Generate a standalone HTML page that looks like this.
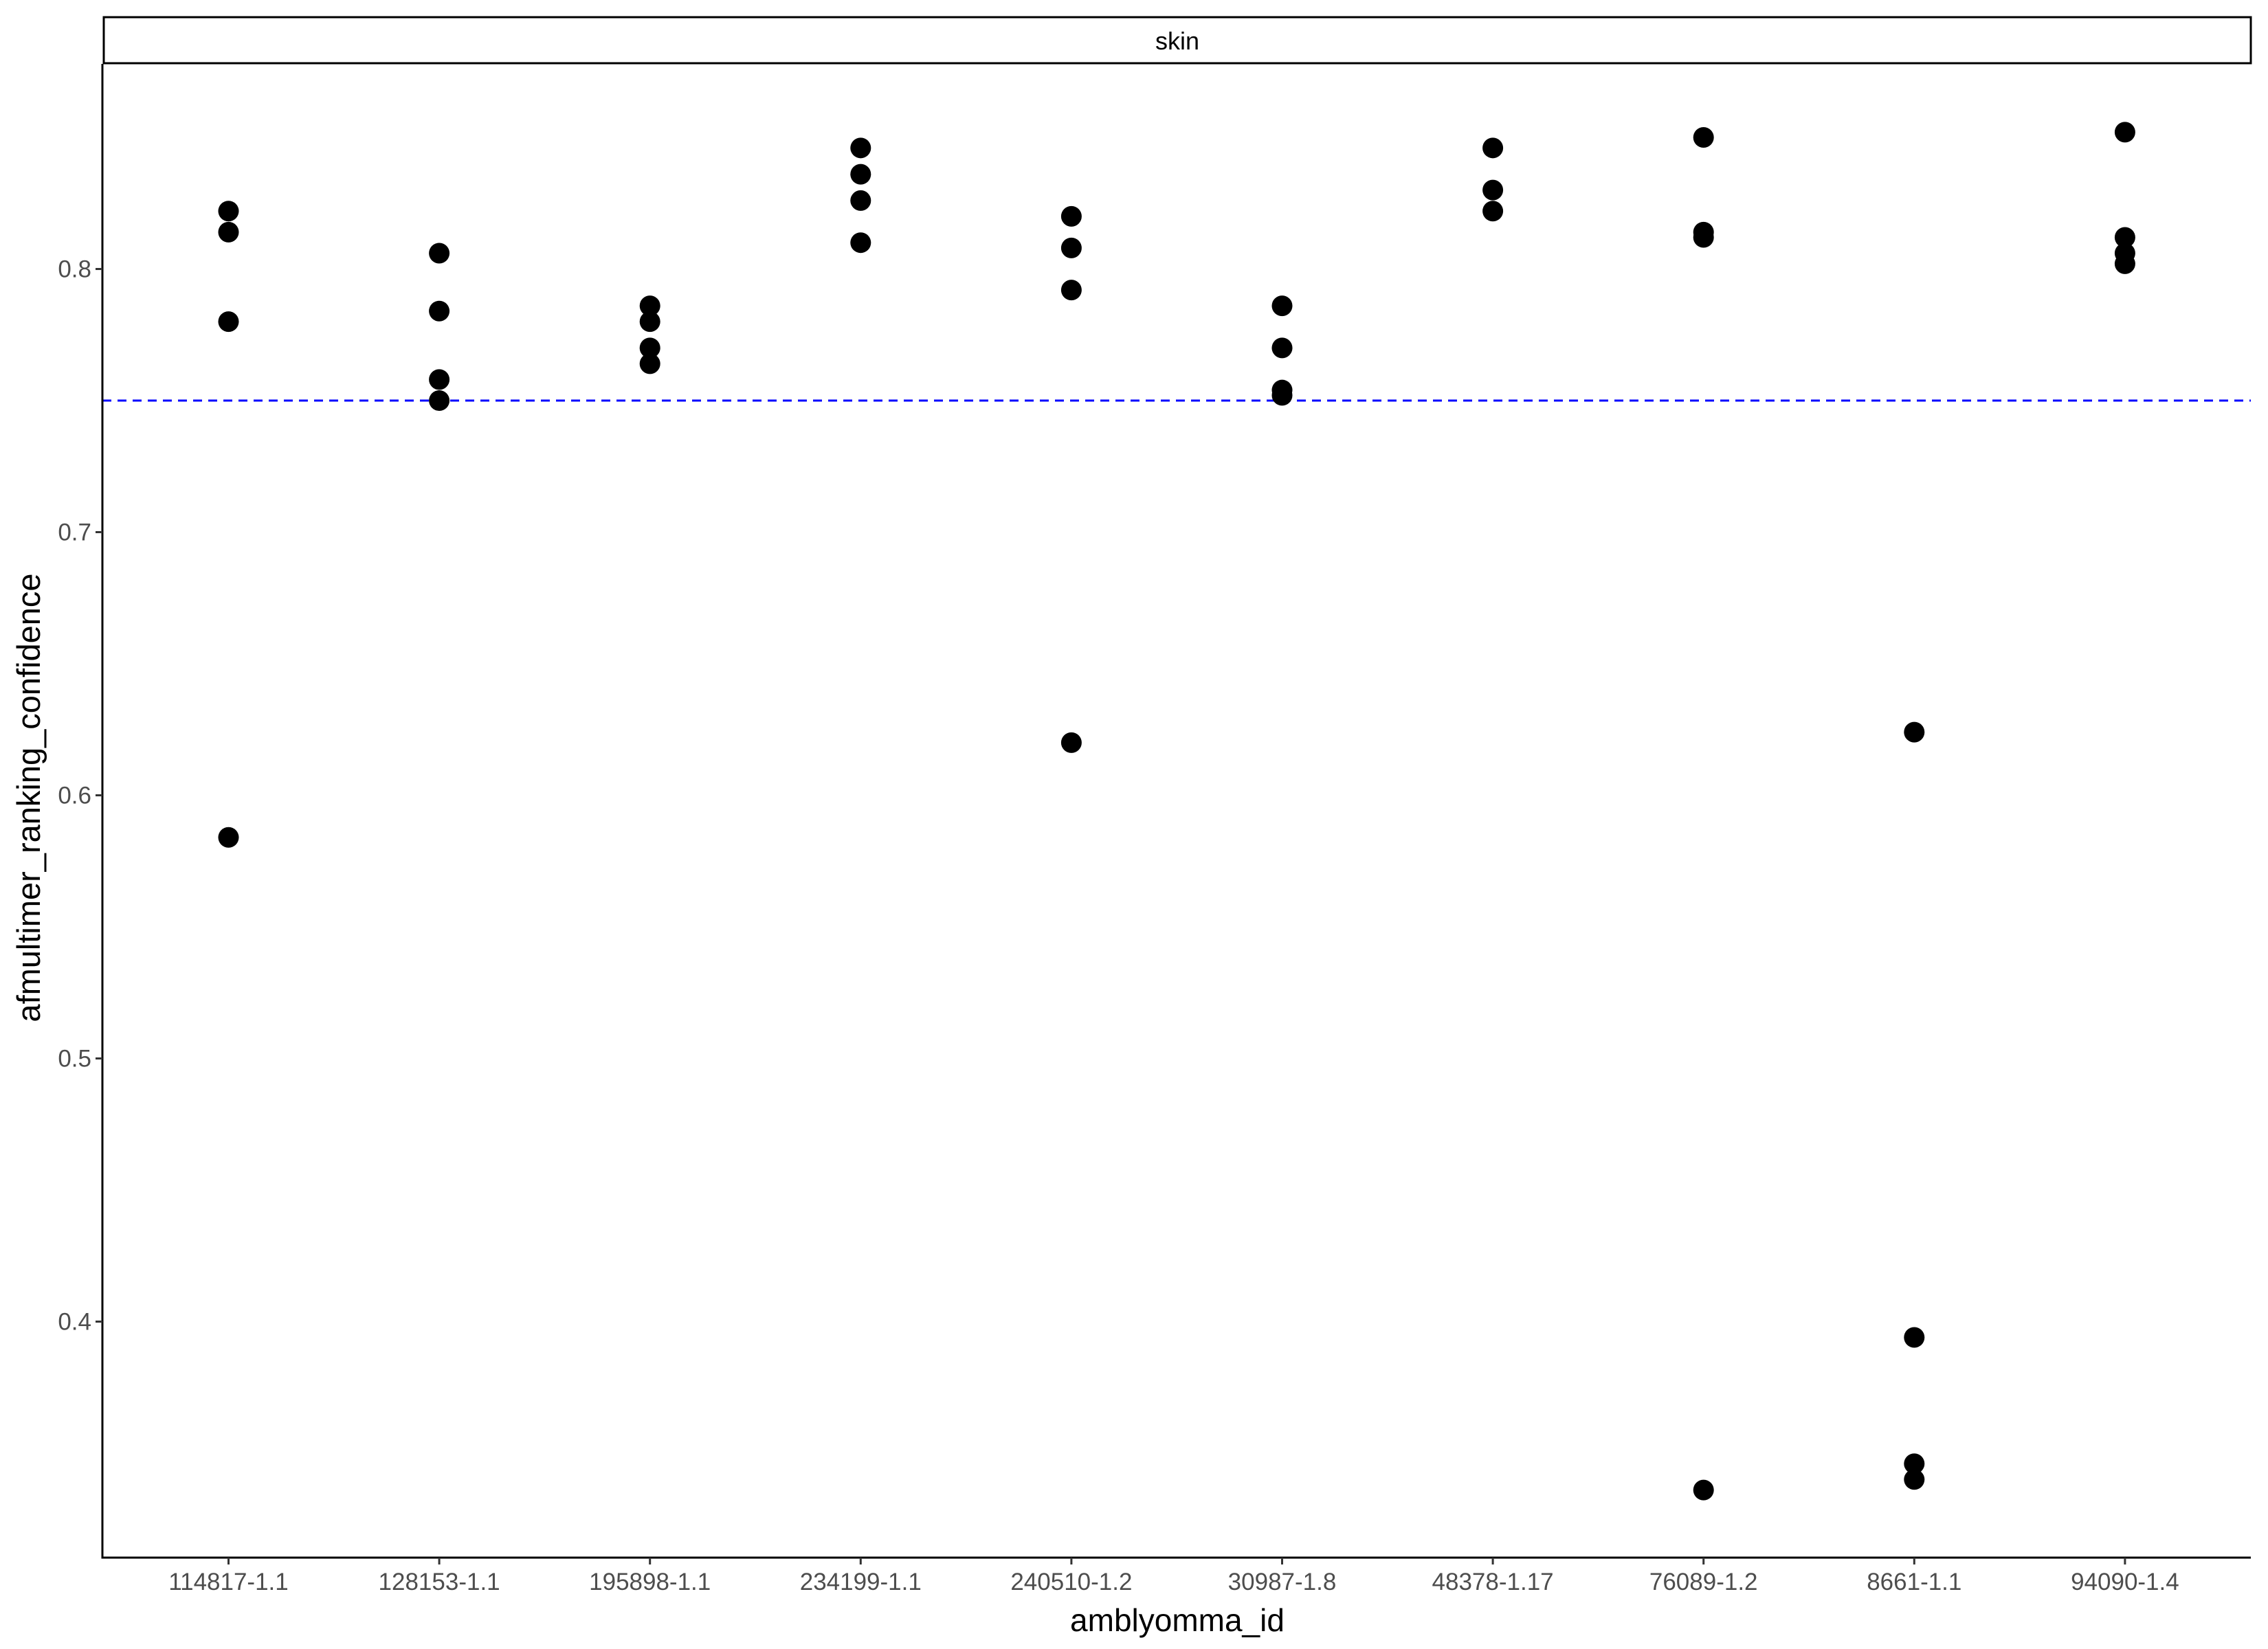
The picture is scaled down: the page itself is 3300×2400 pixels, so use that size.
<!DOCTYPE html>
<html><head><meta charset="utf-8"><style>html,body{margin:0;padding:0;background:#fff}svg{display:block}text{font-family:"Liberation Sans",sans-serif}</style></head>
<body>
<svg id="chart" xmlns="http://www.w3.org/2000/svg" width="3300" height="2400" viewBox="0 0 3300 2400">
<rect x="0" y="0" width="3300" height="2400" fill="#fff"/>
<rect x="151" y="25" width="3124" height="67" fill="#fff" stroke="#000" stroke-width="3"/>
<text x="1713" y="72" font-size="36" text-anchor="middle">skin</text>
<g id="plot"></g>
<text x="1713" y="2374" font-size="46" text-anchor="middle">amblyomma_id</text>
<text transform="translate(58,1161) rotate(-90)" font-size="47" text-anchor="middle">afmultimer_ranking_confidence</text>
</svg>
<script>
const categories=["114817-1.1","128153-1.1","195898-1.1","234199-1.1","240510-1.2","30987-1.8","48378-1.17","76089-1.2","8661-1.1","94090-1.4"];
const values=[[0.822,0.814,0.780,0.584],[0.806,0.784,0.758,0.750],[0.786,0.780,0.770,0.764],[0.846,0.836,0.826,0.810],[0.820,0.808,0.792,0.620],[0.786,0.770,0.754,0.752],[0.846,0.830,0.822],[0.850,0.814,0.812,0.336],[0.624,0.394,0.346,0.340],[0.852,0.812,0.806,0.802]];
const yTicks=[0.4,0.5,0.6,0.7,0.8];
const threshold=0.75;
const NS="http://www.w3.org/2000/svg";
const L=149,R=3275,T=93,B=2267;
const x=i=>332.5+i*306.6;
const y=v=>391.5+(0.8-v)*3830;
const g=document.getElementById('plot');
function mk(t,a){const e=document.createElementNS(NS,t);for(const k in a)e.setAttribute(k,a[k]);g.appendChild(e);return e;}
let e=mk('line',{x1:149,y1:y(threshold),x2:3275,y2:y(threshold),stroke:'#0000ff','stroke-width':3,'stroke-dasharray':'13,9'});


values.forEach((vs,i)=>vs.forEach(v=>{const c=mk('circle',{cx:x(i),cy:y(v),r:15,fill:'#000'});

}));
e=mk('line',{x1:L,y1:T,x2:L,y2:B+1.5,stroke:'#000','stroke-width':3});


e=mk('line',{x1:L-1.5,y1:B,x2:R,y2:B,stroke:'#000','stroke-width':3});


yTicks.forEach(t=>{const l=mk('line',{x1:L-10,y1:y(t),x2:L,y2:y(t),stroke:'#333','stroke-width':3});


const tx=mk('text',{x:L-16,y:y(t)+12,'font-size':35,fill:'#4d4d4d','text-anchor':'end'});tx.textContent=t.toFixed(1);

});
categories.forEach((c,i)=>{const l=mk('line',{x1:x(i),y1:B,x2:x(i),y2:B+10,stroke:'#333','stroke-width':3});


const tx=mk('text',{x:x(i),y:B+47,'font-size':35,fill:'#4d4d4d','text-anchor':'middle'});tx.textContent=c;

});
</script>
</body></html>
